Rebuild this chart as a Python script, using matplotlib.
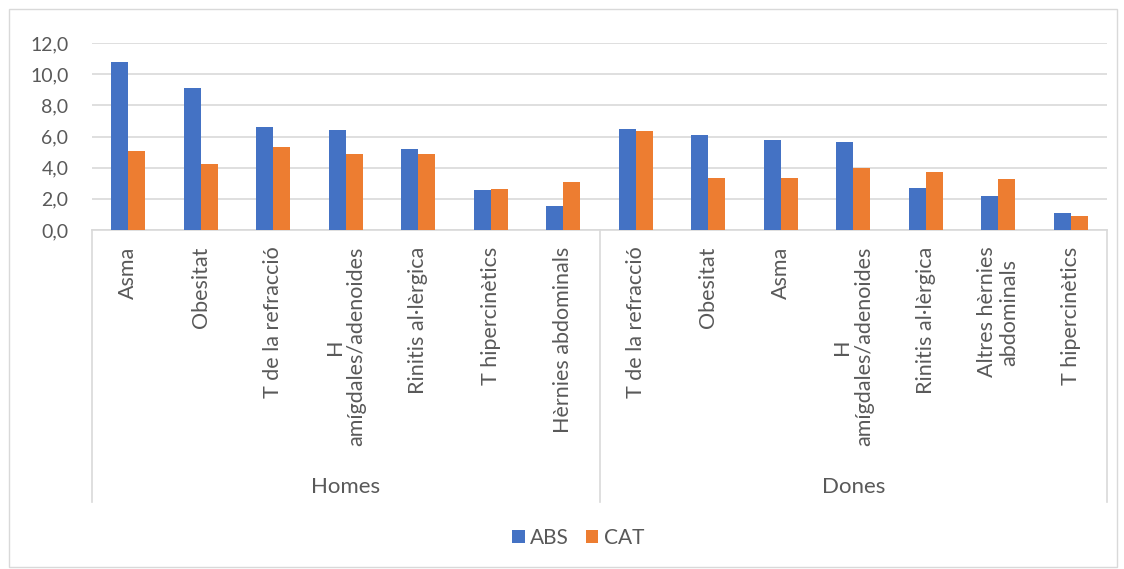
import matplotlib
matplotlib.use("Agg")
import matplotlib.pyplot as plt
from matplotlib.patches import Rectangle
from matplotlib.transforms import blended_transform_factory
import numpy as np

plt.rcParams['font.family'] = ['Lato', 'DejaVu Sans']

groups = ["Homes", "Dones"]
homes_cats = ["Asma", "Obesitat", "T de la refracció", "H\namígdales/adenoides",
              "Rinitis al·lèrgica", "T hipercinètics", "Hèrnies abdominals"]
dones_cats = ["T de la refracció", "Obesitat", "Asma", "H\namígdales/adenoides",
              "Rinitis al·lèrgica", "Altres hèrnies\nabdominals", "T hipercinètics"]
homes_abs = [10.8, 9.1, 6.6, 6.4, 5.2, 2.55, 1.55]
homes_cat = [5.05, 4.25, 5.35, 4.85, 4.9, 2.6, 3.05]
dones_abs = [6.5, 6.1, 5.75, 5.65, 2.7, 2.15, 1.1]
dones_cat = [6.35, 3.35, 3.35, 4.0, 3.7, 3.3, 0.9]
yticks = [0, 2, 4, 6, 8, 10, 12]
ytick_labels = ["0,0", "2,0", "4,0", "6,0", "8,0", "10,0", "12,0"]

cats = homes_cats + dones_cats
abs_vals = homes_abs + dones_abs
cat_vals = homes_cat + dones_cat

W, H = 1124, 569
fig = plt.figure(figsize=(W / 100, H / 100), dpi=100)
txt = '#595959'
grid = '#D9D9D9'

# outer chart border
fig.patches.append(Rectangle((9 / W, 1 - 567 / H), (1117 - 9) / W, (567 - 9) / H,
                             transform=fig.transFigure, fill=False, edgecolor=grid, lw=1))

L, R, T, B = 92, 1107, 43, 230
ax = fig.add_axes([L / W, 1 - B / H, (R - L) / W, (B - T) / H])
x = np.arange(len(cats))
bw = 0.235
ax.bar(x - bw / 2, abs_vals, bw, color='#4472C4', label='ABS', zorder=3)
ax.bar(x + bw / 2, cat_vals, bw, color='#ED7D31', label='CAT', zorder=3)
ax.set_xlim(-0.5, len(cats) - 0.5)
ax.set_ylim(0, 12)
ax.set_yticks(yticks)
ax.set_yticklabels(ytick_labels, color=txt, fontsize=14)
ax.yaxis.grid(True, color=grid, lw=1.2, zorder=0)
ax.set_axisbelow(True)
for s in ['top', 'right', 'left']:
    ax.spines[s].set_visible(False)
ax.spines['bottom'].set_color(grid)
ax.spines['bottom'].set_linewidth(1.2)
ax.tick_params(axis='y', length=0, pad=17)
ax.set_xticks(x)
ax.set_xticklabels(cats, rotation=90, va='top', ha='center', multialignment='center',
                   color=txt, fontsize=15.5, linespacing=1.1)
ax.tick_params(axis='x', length=0, pad=12)

tr = blended_transform_factory(ax.transData, ax.transAxes)
ybot = (B - 502) / (B - T)
for xs in [-0.5, len(homes_cats) - 0.5, len(cats) - 0.5]:
    ax.plot([xs, xs], [0, ybot], transform=tr, color=grid, lw=1.2, clip_on=False)
ylab = (B - 487) / (B - T)
ax.text((len(homes_cats) - 1) / 2, ylab, groups[0], transform=tr, ha='center', va='center',
        color=txt, fontsize=16)
ax.text(len(homes_cats) + (len(dones_cats) - 1) / 2, ylab, groups[1], transform=tr,
        ha='center', va='center', color=txt, fontsize=16)

fig.legend(loc='center', bbox_to_anchor=(578 / W, 1 - 538 / H), ncol=2, frameon=False,
           fontsize=15, labelcolor=txt, handlelength=0.62, handleheight=0.62,
           handletextpad=0.25, columnspacing=0.8)

fig.savefig('out.png', dpi=100)
